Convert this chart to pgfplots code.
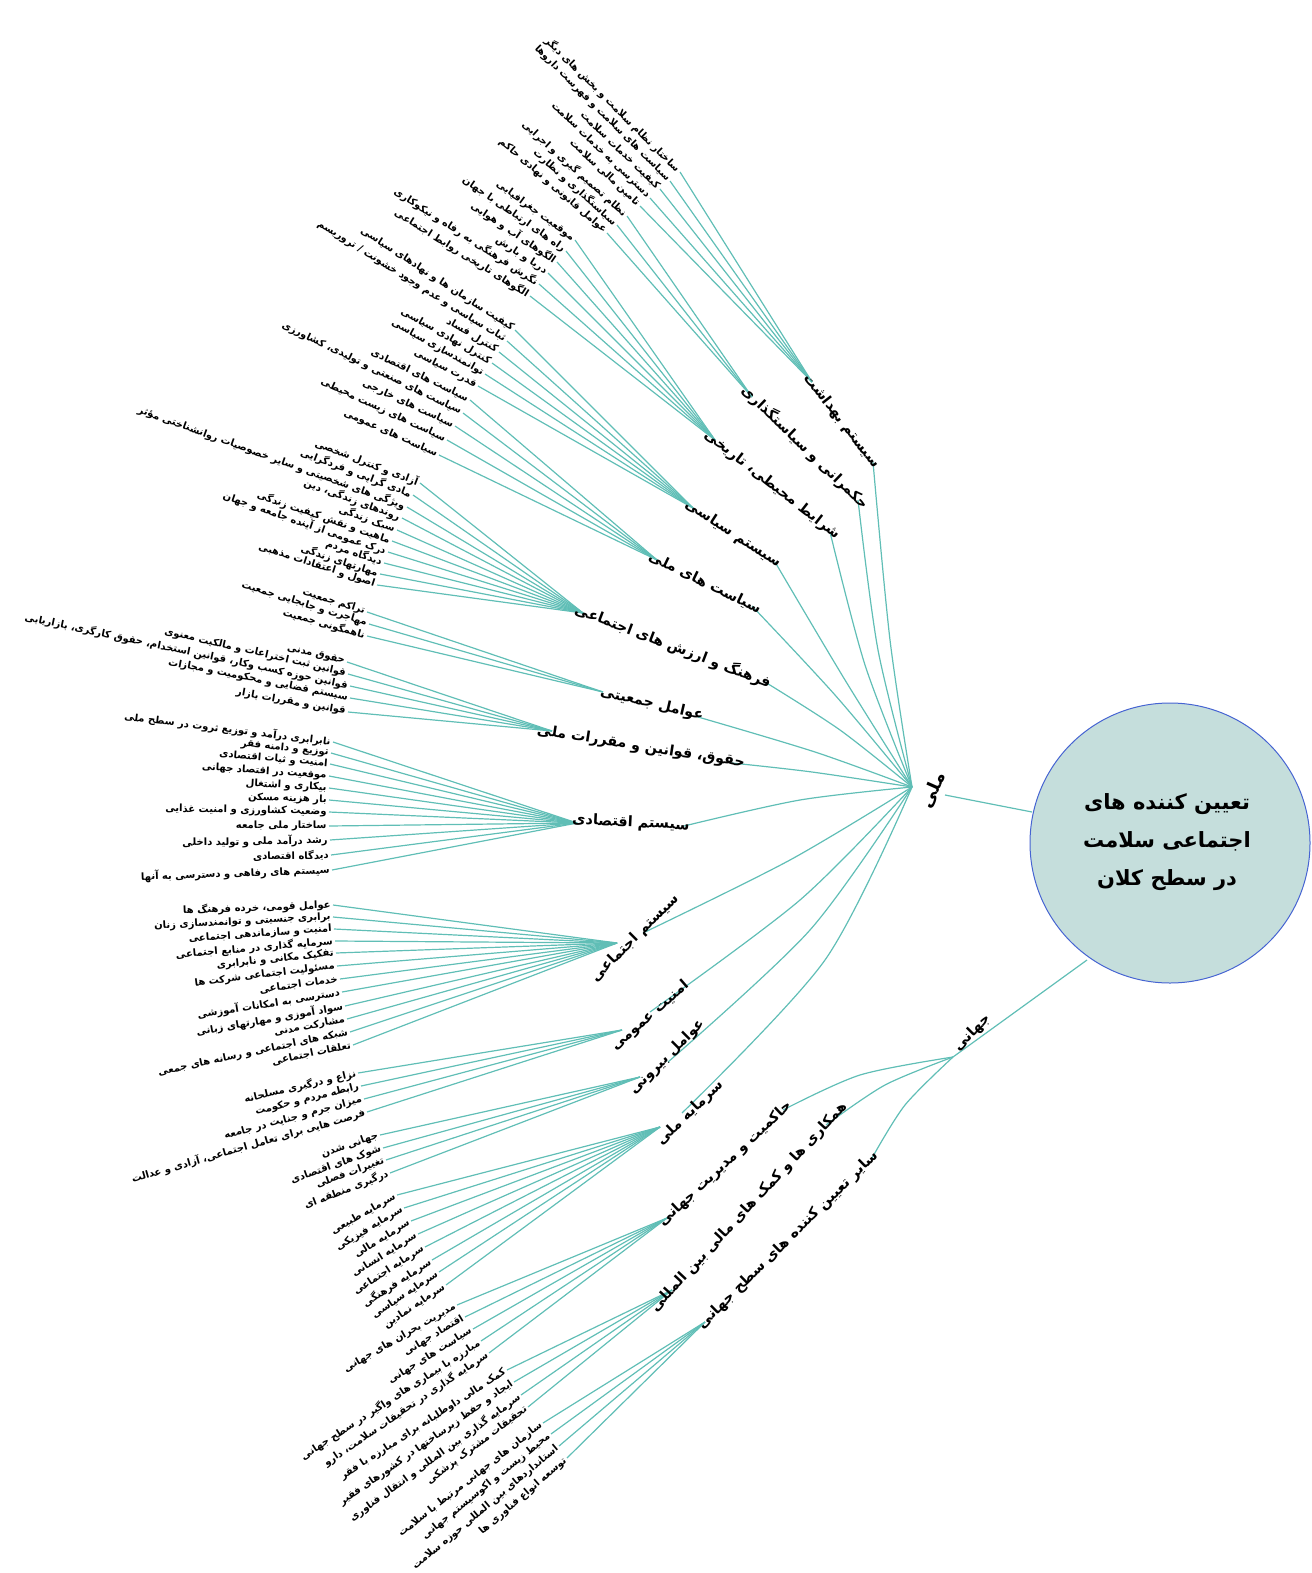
\documentclass[border=0pt]{standalone}
\usepackage{pgfplots}
\pgfplotsset{compat=1.18}
\usepackage{fontspec}
\TeXXeTstate=1
\newfontfamily\fa[Script=Arabic]{DejaVu Sans}
\definecolor{edgec}{RGB}{96,190,182}
\definecolor{rootfill}{RGB}{197,222,220}
\definecolor{rootline}{RGB}{70,100,210}
\tikzset{
  leaf/.style={font=\fa\bfseries\fontsize{5.0}{6}\selectfont, anchor=east, inner sep=1pt},
  lab/.style={font=\fa\bfseries\fontsize{7.2}{8}\selectfont, inner sep=0pt},
  big/.style={font=\fa\bfseries\fontsize{9}{10}\selectfont, inner sep=0pt},
}
\pgfplotsset{edge/.style={draw=edgec, line width=0.6pt, mark=none}}
% hub x, hub y, end x, end y, angle, text
\newcommand\leaf[6]{\addplot[edge] coordinates {(#1,#2) (#3,#4)};
  \node[leaf,rotate=#5] at (axis cs:#3,#4) {#6};}

\begin{document}
\begin{tikzpicture}
\begin{axis}[
  name=ax,
  width=655.5pt, height=786.5pt, scale only axis,
  xmin=0, xmax=1311, ymin=0, ymax=1573, y dir=reverse,
  hide axis, clip=false,
]
% root links
\addplot[edge] coordinates {(945,795) (1032,812)};
\addplot[edge] coordinates {(1087,960) (953,1057)};

% national branches
\addplot[edge,smooth] coordinates {(912,787) (890,640) (873,462)};
\addplot[edge,smooth] coordinates {(912,787) (878,650) (858,500)};
\addplot[edge,smooth] coordinates {(912,787) (865,665) (830,532)};
\addplot[edge,smooth] coordinates {(912,787) (845,680) (775,562)};
\addplot[edge,smooth] coordinates {(912,787) (835,695) (752,606)};
\addplot[edge,smooth] coordinates {(912,787) (840,730) (765,682)};
\addplot[edge,smooth] coordinates {(912,787) (815,752) (698,717)};
\addplot[edge,smooth] coordinates {(912,787) (812,772) (732,763)};
\addplot[edge,smooth] coordinates {(912,787) (800,800) (684,826)};
\addplot[edge,smooth] coordinates {(912,787) (790,860) (643,933)};
\addplot[edge,smooth] coordinates {(912,787) (800,900) (650,1012)};
\addplot[edge,smooth] coordinates {(912,787) (810,930) (668,1062)};
\addplot[edge,smooth] coordinates {(912,787) (825,960) (682,1113)};

% global branches
\addplot[edge,smooth] coordinates {(953,1057) (860,1075) (783,1110)};
\addplot[edge,smooth] coordinates {(953,1057) (885,1085) (826,1125)};
\addplot[edge,smooth] coordinates {(953,1057) (905,1105) (872,1158)};

% N1
\leaf{812}{382}{680}{172}{-45}{\fa\beginR ساختار نظام سلامت و بخش های دیگر\endR}
\leaf{812}{382}{670}{181}{-45}{\fa\beginR سیاست های سلامت و فهرست داروها\endR}
\leaf{812}{382}{660}{189}{-44}{\fa\beginR کیفیت خدمات سلامت\endR}
\leaf{812}{382}{650}{198}{-44}{\fa\beginR دسترسی به خدمات سلامت\endR}
\leaf{812}{382}{640}{206}{-43}{\fa\beginR تامین مالی سلامت\endR}
% N2
\leaf{752}{397}{627}{216}{-42}{\fa\beginR نظام تصمیم گیری و اجرایی\endR}
\leaf{752}{397}{617}{225}{-42}{\fa\beginR سیاستگذاری و نظارت\endR}
\leaf{752}{397}{607}{233}{-41}{\fa\beginR عوامل قانونی و نهادی حاکم\endR}
% N3
\leaf{715}{440}{575}{240}{-36}{\fa\beginR موقعیت جغرافیایی\endR}
\leaf{715}{440}{566}{251}{-35}{\fa\beginR راه های ارتباطی با جهان\endR}
\leaf{715}{440}{557}{262}{-34}{\fa\beginR الگوهای آب و هوایی\endR}
\leaf{715}{440}{548}{273}{-33}{\fa\beginR دریا و بارش\endR}
\leaf{715}{440}{539}{284}{-33}{\fa\beginR نگرش فرهنگی به رفاه و نیکوکاری\endR}
\leaf{715}{440}{530}{296}{-32}{\fa\beginR الگوهای تاریخی روابط اجتماعی\endR}
% N4
\leaf{693}{508}{515}{330}{-33}{\fa\beginR کیفیت سازمان ها و نهادهای سیاسی\endR}
\leaf{693}{508}{507}{341}{-32}{\fa\beginR ثبات سیاسی و عدم وجود خشونت / تروریسم\endR}
\leaf{693}{508}{499}{352}{-31}{\fa\beginR کنترل فساد\endR}
\leaf{693}{508}{492}{363}{-30}{\fa\beginR کنترل نهادی سیاسی\endR}
\leaf{693}{508}{485}{374}{-29}{\fa\beginR توانمندسازی سیاسی\endR}
\leaf{693}{508}{478}{386}{-28}{\fa\beginR قدرت سیاسی\endR}
% N5
\leaf{657}{560}{470}{400}{-26}{\fa\beginR سیاست های اقتصادی\endR}
\leaf{657}{560}{463}{413}{-26}{\fa\beginR سیاست های صنعتی و تولیدی، کشاورزی\endR}
\leaf{657}{560}{455}{426}{-25}{\fa\beginR سیاست های خارجی\endR}
\leaf{657}{560}{447}{440}{-25}{\fa\beginR سیاست های زیست محیطی\endR}
\leaf{657}{560}{439}{455}{-24}{\fa\beginR سیاست های عمومی\endR}
% N6
\leaf{583}{613}{420}{483}{-21}{\fa\beginR آزادی و کنترل شخصی\endR}
\leaf{583}{613}{413}{495}{-21}{\fa\beginR مادی گرایی و فردگرایی\endR}
\leaf{583}{613}{407}{507}{-20}{\fa\beginR ویژگی های شخصیتی و سایر خصوصیات روانشناختی مؤثر\endR}
\leaf{583}{613}{402}{518}{-20}{\fa\beginR روندهای زندگی، دین\endR}
\leaf{583}{613}{397}{530}{-20}{\fa\beginR سبک زندگی\endR}
\leaf{583}{613}{392}{541}{-19}{\fa\beginR ماهیت و نقش کیفیت زندگی\endR}
\leaf{583}{613}{388}{552}{-19}{\fa\beginR درک عمومی از آینده جامعه و جهان\endR}
\leaf{583}{613}{384}{563}{-19}{\fa\beginR دیدگاه مردم\endR}
\leaf{583}{613}{380}{574}{-18}{\fa\beginR مهارتهای زندگی\endR}
\leaf{583}{613}{377}{585}{-18}{\fa\beginR اصول و اعتقادات مذهبی\endR}
% N7
\leaf{603}{692}{367}{612}{-17}{\fa\beginR تراکم جمعیت\endR}
\leaf{603}{692}{369}{624}{-17}{\fa\beginR مهاجرت و جابجایی جمعیت\endR}
\leaf{603}{692}{367}{636}{-16}{\fa\beginR ناهمگونی جمعیت\endR}
% N8
\leaf{552}{731}{347}{662}{-13}{\fa\beginR حقوق مدنی\endR}
\leaf{552}{731}{348}{674}{-13}{\fa\beginR قوانین ثبت اختراعات و مالکیت معنوی\endR}
\leaf{552}{731}{350}{686}{-12}{\fa\beginR قوانین حوزه کسب وکار، قوانین استخدام، حقوق کارگری، بازاریابی\endR}
\leaf{552}{731}{350}{698}{-11}{\fa\beginR سیستم قضایی و محکومیت و مجازات\endR}
\leaf{552}{731}{348}{712}{-10}{\fa\beginR قوانین و مقررات بازار\endR}
% N9
\leaf{577}{823}{333}{742}{-7}{\fa\beginR نابرابری درآمد و توزیع ثروت در سطح ملی\endR}
\leaf{577}{823}{331}{753}{-6}{\fa\beginR توزیع و دامنه فقر\endR}
\leaf{577}{823}{330}{764}{-5}{\fa\beginR امنیت و ثبات اقتصادی\endR}
\leaf{577}{823}{329}{776}{-4}{\fa\beginR موقعیت در اقتصاد جهانی\endR}
\leaf{577}{823}{329}{788}{-3}{\fa\beginR بیکاری و اشتغال\endR}
\leaf{577}{823}{329}{800}{-2}{\fa\beginR بار هزینه مسکن\endR}
\leaf{577}{823}{329}{812}{-1}{\fa\beginR وضعیت کشاورزی و امنیت غذایی\endR}
\leaf{577}{823}{329}{826}{0}{\fa\beginR ساختار ملی جامعه\endR}
\leaf{577}{823}{330}{840}{1}{\fa\beginR رشد درآمد ملی و تولید داخلی\endR}
\leaf{577}{823}{331}{855}{1}{\fa\beginR دیدگاه اقتصادی\endR}
\leaf{577}{823}{332}{870}{2}{\fa\beginR سیستم های رفاهی و دسترسی به آنها\endR}
% N10
\leaf{617}{943}{333}{905}{2}{\fa\beginR عوامل قومی، خرده فرهنگ ها\endR}
\leaf{617}{943}{333}{917}{3}{\fa\beginR برابری جنسیتی و توانمندسازی زنان\endR}
\leaf{617}{943}{334}{929}{4}{\fa\beginR امنیت و سازماندهی اجتماعی\endR}
\leaf{617}{943}{335}{941}{5}{\fa\beginR سرمایه گذاری در منابع اجتماعی\endR}
\leaf{617}{943}{336}{953}{6}{\fa\beginR تفکیک مکانی و نابرابری\endR}
\leaf{617}{943}{337}{966}{7}{\fa\beginR مسئولیت اجتماعی شرکت ها\endR}
\leaf{617}{943}{340}{979}{8}{\fa\beginR خدمات اجتماعی\endR}
\leaf{617}{943}{342}{992}{9}{\fa\beginR دسترسی به امکانات آموزشی\endR}
\leaf{617}{943}{345}{1006}{10}{\fa\beginR سواد آموزی و مهارتهای زبانی\endR}
\leaf{617}{943}{347}{1019}{11}{\fa\beginR مشارکت مدنی\endR}
\leaf{617}{943}{350}{1032}{12}{\fa\beginR شبکه های اجتماعی و رسانه های جمعی\endR}
\leaf{617}{943}{353}{1045}{12}{\fa\beginR تعلقات اجتماعی\endR}
% N11
\leaf{622}{1030}{358}{1073}{13}{\fa\beginR نزاع و درگیری مسلحانه\endR}
\leaf{622}{1030}{361}{1086}{14}{\fa\beginR رابطه مردم و حکومت\endR}
\leaf{622}{1030}{364}{1099}{15}{\fa\beginR میزان جرم و جنایت در جامعه\endR}
\leaf{622}{1030}{367}{1112}{16}{\fa\beginR فرصت هایی برای تعامل اجتماعی، آزادی و عدالت\endR}
% N12
\leaf{640}{1077}{380}{1135}{19}{\fa\beginR جهانی شدن\endR}
\leaf{640}{1077}{383}{1148}{20}{\fa\beginR شوک های اقتصادی\endR}
\leaf{640}{1077}{386}{1160}{20}{\fa\beginR تغییرات فصلی\endR}
\leaf{640}{1077}{390}{1173}{21}{\fa\beginR درگیری منطقه ای\endR}
% N13
\leaf{660}{1127}{397}{1195}{30}{\fa\beginR سرمایه طبیعی\endR}
\leaf{660}{1127}{404}{1208}{31}{\fa\beginR سرمایه فیزیکی\endR}
\leaf{660}{1127}{411}{1221}{32}{\fa\beginR سرمایه مالی\endR}
\leaf{660}{1127}{418}{1234}{32}{\fa\beginR سرمایه انسانی\endR}
\leaf{660}{1127}{425}{1247}{33}{\fa\beginR سرمایه اجتماعی\endR}
\leaf{660}{1127}{432}{1260}{33}{\fa\beginR سرمایه فرهنگی\endR}
\leaf{660}{1127}{439}{1272}{34}{\fa\beginR سرمایه سیاسی\endR}
\leaf{660}{1127}{446}{1285}{34}{\fa\beginR سرمایه نمادین\endR}
% G1
\leaf{667}{1218}{457}{1305}{30}{\fa\beginR مدیریت بحران های جهانی\endR}
\leaf{667}{1218}{465}{1317}{31}{\fa\beginR اقتصاد جهانی\endR}
\leaf{667}{1218}{473}{1329}{32}{\fa\beginR سیاست های جهانی\endR}
\leaf{667}{1218}{481}{1341}{33}{\fa\beginR مبارزه با بیماری های واگیر در سطح جهانی\endR}
\leaf{667}{1218}{489}{1353}{34}{\fa\beginR سرمایه گذاری در تحقیقات سلامت، دارو\endR}
% G2
\leaf{672}{1290}{507}{1370}{33}{\fa\beginR کمک مالی داوطلبانه برای مبارزه با فقر\endR}
\leaf{672}{1290}{514}{1382}{35}{\fa\beginR ایجاد و حفظ زیرساختها در کشورهای فقیر\endR}
\leaf{672}{1290}{521}{1395}{36}{\fa\beginR سرمایه گذاری بین المللی و انتقال فناوری\endR}
\leaf{672}{1290}{528}{1407}{37}{\fa\beginR تحقیقات مشترک پزشکی\endR}
% G3
\leaf{705}{1322}{543}{1423}{38}{\fa\beginR سازمان های جهانی مرتبط با سلامت\endR}
\leaf{705}{1322}{551}{1434}{39}{\fa\beginR محیط زیست و اکوسیستم جهانی\endR}
\leaf{705}{1322}{559}{1446}{40}{\fa\beginR استانداردهای بین المللی حوزه سلامت\endR}
\leaf{705}{1322}{567}{1458}{41}{\fa\beginR توسعه انواع فناوری ها\endR}

% branch labels
\node[lab,rotate=-52] at (axis cs:842,421) {\fa\beginR سیستم بهداشت\endR};
\node[lab,rotate=-44] at (axis cs:805,447) {\fa\beginR حکمرانی و سیاستگذاری\endR};
\node[lab,rotate=-38] at (axis cs:772,485) {\fa\beginR شرایط محیطی، تاریخی\endR};
\node[lab,rotate=-33] at (axis cs:733,534) {\fa\beginR سیستم سیاسی\endR};
\node[lab,rotate=-26] at (axis cs:705,583) {\fa\beginR سیاست های ملی\endR};
\node[lab,rotate=-21] at (axis cs:673,646) {\fa\beginR فرهنگ و ارزش های اجتماعی\endR};
\node[lab,rotate=-13] at (axis cs:652,704) {\fa\beginR عوامل جمعیتی\endR};
\node[lab,rotate=-9] at (axis cs:641,747) {\fa\beginR حقوق، قوانین و مقررات ملی\endR};
\node[lab,rotate=-3] at (axis cs:631,823) {\fa\beginR سیستم اقتصادی\endR};
\node[lab,rotate=45] at (axis cs:635,938) {\fa\beginR سیستم اجتماعی\endR};
\node[lab,rotate=41] at (axis cs:650,1016) {\fa\beginR امنیت عمومی\endR};
\node[lab,rotate=45] at (axis cs:667,1057) {\fa\beginR عوامل بیرونی\endR};
\node[lab,rotate=44] at (axis cs:690,1113) {\fa\beginR سرمایه ملی\endR};
\node[lab,rotate=43] at (axis cs:725,1164) {\fa\beginR حاکمیت و مدیریت جهانی\endR};
\node[lab,rotate=47] at (axis cs:749,1207) {\fa\beginR همکاری ها و کمک های مالی بین المللی\endR};
\node[lab,rotate=44.5] at (axis cs:788,1240) {\fa\beginR سایر تعیین کننده های سطح جهانی\endR};

\node[big,rotate=66] at (axis cs:933,790) {\fa\beginR ملی\endR};
\node[lab,rotate=45] at (axis cs:972,1033) {\fa\beginR جهانی\endR};

% root
\node[circle, draw=rootline, fill=rootfill, line width=0.5pt, minimum size=140pt, inner sep=0pt] at (axis cs:1170,843) {};
\node[font=\fa\bfseries\fontsize{10.5}{19}\selectfont, align=center] at (axis cs:1167,842)
  {\beginR تعیین کننده های\endR\\\beginR اجتماعی سلامت\endR\\\beginR در سطح کلان\endR};
\end{axis}
\pgfresetboundingbox
\useasboundingbox (ax.south west) rectangle (ax.north east);
\end{tikzpicture}
\end{document}
